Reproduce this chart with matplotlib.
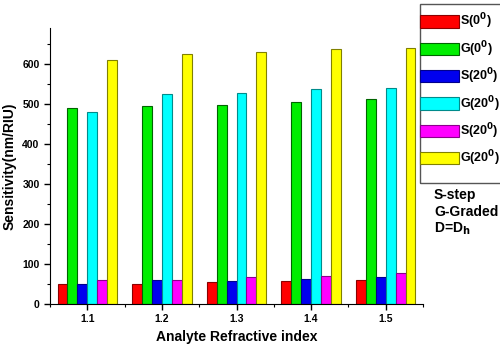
import numpy as np
import matplotlib.pyplot as plt
from matplotlib.patches import Rectangle
from matplotlib.ticker import MultipleLocator

plt.rcParams['font.family'] = ['Liberation Sans', 'DejaVu Sans']
plt.rcParams['font.weight'] = 'bold'
plt.rcParams['mathtext.default'] = 'bf'

index = [1.1, 1.2, 1.3, 1.4, 1.5]
s_0 = [49, 50, 53, 57, 60]
g_0 = [489, 494, 497, 505, 513]
s_20a = [50, 60, 57, 62, 67]
g_20a = [480, 525, 526, 537, 539]
s_20b = [60, 60, 67, 70, 77]
g_20b = [609, 624, 629, 637, 640]

series = [s_0, g_0, s_20a, g_20a, s_20b, g_20b]
labels = [r'S(0$^{0}$)', r'G(0$^{0}$)', r'S(20$^{0}$)',
          r'G(20$^{0}$)', r'S(20$^{0}$)', r'G(20$^{0}$)']
faces = ['#ff0000', '#00ee00', '#0000ee', '#00ffff', '#ff00ff', '#ffff00']
edges = ['#8b0000', '#006400', '#00008b', '#008b8b', '#8b008b', '#808000']

fig = plt.figure(figsize=(5, 3.49), dpi=100)
ax = fig.add_axes([0.1, 0.13, 0.746, 0.79])

w = 0.0133
x = np.array(index)
for i, (vals, lab, fc, ec) in enumerate(zip(series, labels, faces, edges)):
    ax.bar(x + (i - 2.5) * w, vals, w, color=fc, edgecolor=ec, lw=0.8, label=lab)

ax.set_xlim(1.05, 1.55)
ax.set_ylim(0, 690)
ax.set_xticks(index)
ax.set_xticklabels(['1.1', '1.2', '1.3', '1.4', '1.5'])
ax.xaxis.set_minor_locator(MultipleLocator(0.05))
ax.yaxis.set_major_locator(MultipleLocator(100))
ax.yaxis.set_minor_locator(MultipleLocator(50))
ax.tick_params(which='major', length=4, width=1, labelsize=7.5)
ax.tick_params(which='minor', length=2, width=0.8)
for side in ['top', 'right']:
    ax.spines[side].set_visible(False)
ax.set_xlabel('Analyte Refractive index', fontsize=10, fontweight='bold')
ax.set_ylabel('Sensitivity(nm/RIU)', fontsize=10, fontweight='bold')

# legend with its own square frame hanging off the right edge
fig.patches.append(Rectangle((420 / 500, 1 - 183 / 349), 90 / 500, 179 / 349,
                             transform=fig.transFigure, fill=False,
                             edgecolor='#555555', lw=1))
fig.legend(loc='upper left', bbox_to_anchor=(418 / 500, 1 - 10 / 349),
           frameon=False, fontsize=9, handlelength=3.15, handleheight=1.15,
           labelspacing=0.62, handletextpad=0.05, borderpad=0.15,
           borderaxespad=0)

for y, t in [(195, 'S-step'), (212, 'G-Graded'), (229, r'D=D$_{h}$')]:
    fig.text(434 / 500, 1 - y / 349, t, fontsize=10, fontweight='bold', va='center')

fig.savefig('out.png', dpi=100)
